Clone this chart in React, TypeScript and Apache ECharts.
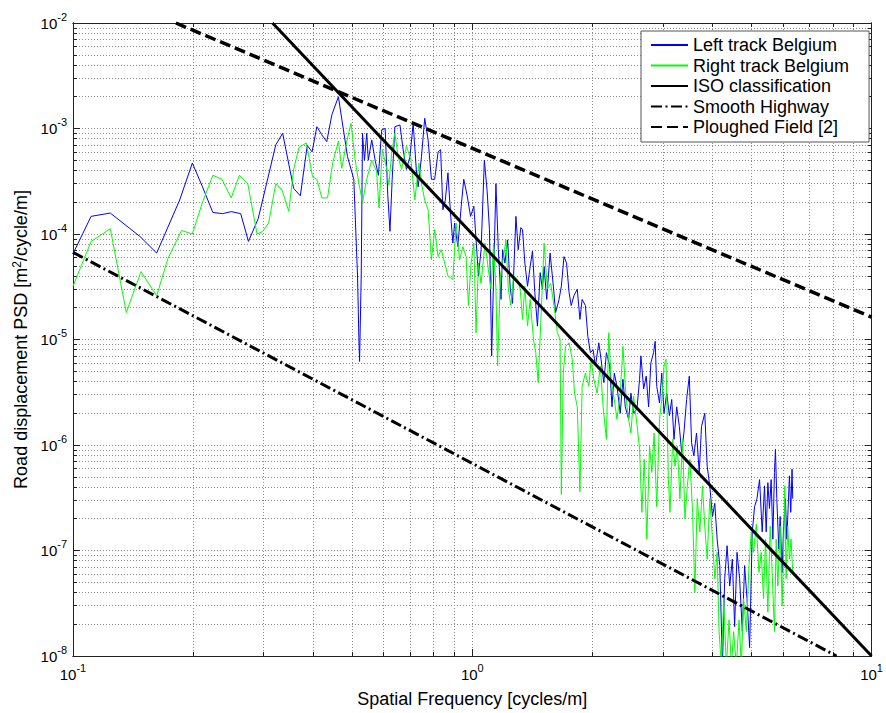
import React, { useEffect, useRef } from "react";
import * as echarts from "echarts";

const FONT = "'Liberation Sans', Arial, Helvetica, sans-serif";

// Spatial frequency [cycles/m], PSD [m^2/cycle/m]
const leftTrack: [number, number][] = [
  [0.100, 6.5e-5], [0.111, 1.47e-4], [0.124, 1.58e-4], [0.147, 9.5e-5], [0.162, 6.6e-5], [0.185, 2.1e-4],
  [0.199, 4.7e-4], [0.211, 2.8e-4], [0.224, 1.6e-4], [0.237, 1.56e-4], [0.249, 1.63e-4], [0.263, 1.56e-4],
  [0.275, 8.5e-5], [0.291, 1.4e-4], [0.322, 7.0e-4], [0.335, 9.0e-4], [0.357, 2.7e-4], [0.371, 2.3e-4],
  [0.386, 6.9e-4], [0.397, 6.0e-4], [0.408, 1.04e-3], [0.420, 8.7e-4], [0.432, 7.5e-4], [0.445, 1.35e-3],
  [0.462, 2.0e-3], [0.487, 5.4e-4], [0.505, 3.3e-4], [0.511, 1.02e-4], [0.516, 4.0e-5], [0.520, 1.0e-5],
  [0.522, 6.2e-6], [0.527, 4.0e-5], [0.531, 9.0e-4], [0.537, 5.0e-4], [0.544, 9.0e-4], [0.549, 5.0e-4],
  [0.560, 7.8e-4], [0.571, 5.0e-4], [0.582, 3.6e-4], [0.593, 9.7e-4], [0.605, 1.0e-3], [0.614, 2.4e-4],
  [0.622, 1.06e-4], [0.630, 3.3e-4], [0.640, 1.04e-3], [0.659, 1.08e-3], [0.671, 6.3e-4], [0.684, 4.1e-4],
  [0.698, 5.4e-4], [0.711, 1.12e-3], [0.724, 4.1e-4], [0.732, 2.8e-4], [0.746, 5.4e-4], [0.760, 1.25e-3],
  [0.775, 7.8e-4], [0.790, 3.3e-4], [0.805, 3.3e-4], [0.821, 6.0e-4], [0.833, 6.3e-4], [0.844, 1.7e-4],
  [0.856, 2.1e-4], [0.869, 3.8e-4], [0.883, 1.47e-4], [0.894, 8.2e-5], [0.903, 1.27e-4], [0.920, 7.6e-5],
  [0.938, 1.83e-4], [0.952, 3.3e-4], [0.971, 2.3e-4], [0.990, 1.47e-4], [1.009, 1.83e-4], [1.022, 8.8e-5],
  [1.036, 4.0e-5], [1.052, 7.1e-5], [1.072, 5.0e-4], [1.089, 2.6e-4], [1.104, 1.1e-4], [1.118, 7.0e-6],
  [1.131, 4.0e-5], [1.146, 3.0e-4], [1.162, 7.1e-5], [1.180, 2.4e-5], [1.191, 7.1e-5], [1.207, 5.3e-5],
  [1.226, 8.8e-5], [1.245, 3.0e-5], [1.261, 2.2e-5], [1.286, 1.47e-4], [1.303, 7.1e-5], [1.323, 1.15e-4],
  [1.336, 1.1e-4], [1.354, 5.3e-5], [1.375, 3.2e-5], [1.396, 4.9e-5], [1.415, 6.9e-5], [1.434, 2.8e-5],
  [1.456, 1.34e-5], [1.479, 4.3e-5], [1.498, 3.0e-5], [1.513, 4.9e-5], [1.536, 2.4e-5], [1.566, 6.6e-5],
  [1.596, 3.2e-5], [1.617, 1.8e-5], [1.649, 2.4e-5], [1.671, 3.2e-5], [1.697, 6.1e-5], [1.722, 5.3e-5],
  [1.747, 2.8e-5], [1.769, 2.1e-5], [1.797, 2.6e-5], [1.832, 3.0e-5], [1.860, 1.55e-5], [1.884, 2.4e-5],
  [1.920, 2.1e-5], [1.947, 1.07e-5], [1.976, 7.5e-6], [2.007, 8.0e-6], [2.034, 5.6e-6], [2.074, 9.3e-6],
  [2.101, 6.5e-6], [2.135, 3.9e-6], [2.167, 7.5e-6], [2.209, 5.6e-6], [2.238, 2.3e-6], [2.268, 4.8e-6],
  [2.303, 3.6e-6], [2.347, 2.0e-6], [2.384, 4.2e-6], [2.416, 2.3e-6], [2.464, 1.75e-6], [2.496, 3.1e-6],
  [2.535, 2.0e-6], [2.584, 2.2e-6], [2.624, 4.2e-6], [2.644, 7.0e-6], [2.686, 3.4e-6], [2.726, 4.5e-6],
  [2.764, 2.3e-6], [2.800, 6.0e-6], [2.844, 7.5e-6], [2.870, 9.6e-6], [2.897, 3.6e-6], [2.943, 2.5e-6],
  [2.982, 4.8e-6], [3.021, 2.0e-6], [3.068, 3.1e-6], [3.116, 1.9e-6], [3.158, 2.7e-6], [3.200, 1.13e-6],
  [3.250, 2.3e-6], [3.300, 1.5e-6], [3.344, 8.5e-7], [3.388, 1.3e-6], [3.441, 2.7e-6], [3.495, 4.5e-6],
  [3.541, 1.05e-6], [3.588, 7.9e-7], [3.644, 1.3e-6], [3.701, 5.5e-7], [3.750, 1.5e-6], [3.821, 2.0e-6],
  [3.875, 6.3e-7], [3.933, 4.1e-7], [3.995, 2.1e-7], [4.048, 2.8e-7], [4.104, 1.28e-7], [4.167, 7.2e-8],
  [4.231, 8e-9], [4.287, 5.4e-8], [4.346, 1.11e-7], [4.412, 4.6e-8], [4.480, 8.3e-8], [4.539, 1.9e-8],
  [4.603, 9.6e-8], [4.672, 5.4e-8], [4.745, 1.7e-8], [4.808, 7.2e-8], [4.875, 3.5e-8], [4.949, 1.2e-8],
  [5.025, 1.5e-7], [5.092, 2.6e-7], [5.163, 3.1e-7], [5.241, 4.7e-7], [5.321, 1.5e-7], [5.393, 4.1e-7],
  [5.445, 1.5e-7], [5.498, 4.4e-7], [5.549, 2.5e-7], [5.603, 4.7e-7], [5.659, 1.28e-7], [5.711, 5.5e-7],
  [5.744, 9.1e-7], [5.789, 3.1e-7], [5.856, 1.03e-7], [5.901, 2.1e-7], [5.969, 6.2e-8], [6.014, 1.5e-7],
  [6.084, 3.1e-7], [6.133, 1.28e-7], [6.179, 2.5e-7], [6.225, 5.1e-7], [6.274, 2.3e-7], [6.321, 5.9e-7],
  [6.346, 3.1e-7],
];

const rightTrack: [number, number][] = [
  [0.100, 3.2e-5], [0.111, 8.5e-5], [0.124, 1.12e-4], [0.136, 1.8e-5], [0.148, 4.4e-5], [0.162, 2.6e-5],
  [0.173, 5.9e-5], [0.187, 1.08e-4], [0.199, 1.0e-4], [0.211, 2.0e-4], [0.224, 3.6e-4], [0.236, 3.3e-4],
  [0.249, 2.2e-4], [0.261, 3.6e-4], [0.274, 3.0e-4], [0.289, 1.0e-4], [0.298, 1.05e-4], [0.309, 1.27e-4],
  [0.322, 3.0e-4], [0.334, 2.6e-4], [0.347, 1.64e-4], [0.357, 4.1e-4], [0.368, 6.6e-4], [0.384, 7.3e-4],
  [0.398, 3.5e-4], [0.408, 3.3e-4], [0.420, 2.2e-4], [0.434, 2.2e-4], [0.447, 4.7e-4], [0.462, 7.6e-4],
  [0.471, 4.2e-4], [0.485, 7.6e-4], [0.497, 1.12e-3], [0.509, 5.0e-4], [0.521, 2.9e-4], [0.531, 2.0e-4],
  [0.544, 3.3e-4], [0.560, 5.0e-4], [0.576, 3.9e-4], [0.584, 1.76e-4], [0.595, 6.3e-4], [0.610, 4.2e-4],
  [0.618, 2.9e-4], [0.628, 5.8e-4], [0.640, 9.0e-4], [0.652, 5.4e-4], [0.665, 4.1e-4], [0.684, 6.8e-4],
  [0.702, 5.0e-4], [0.718, 2.1e-4], [0.735, 4.7e-4], [0.746, 3.0e-4], [0.760, 2.1e-4], [0.775, 1.7e-4],
  [0.790, 5.7e-5], [0.805, 1.1e-4], [0.821, 6.1e-5], [0.836, 7.1e-5], [0.853, 5.3e-5], [0.869, 4.0e-5],
  [0.894, 3.7e-5], [0.911, 1.27e-4], [0.929, 5.7e-5], [0.947, 7.6e-5], [0.965, 6.1e-5], [0.978, 2.1e-5],
  [0.993, 5.3e-5], [1.009, 8.2e-5], [1.022, 1.16e-5], [1.036, 5.3e-5], [1.052, 3.4e-5], [1.076, 8.2e-5],
  [1.097, 4.6e-5], [1.114, 3.0e-5], [1.131, 8.2e-5], [1.146, 3.0e-5], [1.157, 5.6e-6], [1.176, 4.0e-5],
  [1.198, 6.1e-5], [1.214, 8.8e-5], [1.231, 3.0e-5], [1.249, 2.1e-5], [1.269, 4.0e-5], [1.298, 3.7e-5],
  [1.318, 3.0e-5], [1.336, 1.55e-5], [1.354, 3.2e-5], [1.375, 1.34e-5], [1.396, 2.4e-5], [1.423, 1.0e-5],
  [1.442, 7.5e-6], [1.462, 3.9e-6], [1.484, 1.44e-5], [1.513, 8.2e-5], [1.542, 3.0e-5], [1.571, 3.4e-5],
  [1.602, 2.1e-5], [1.633, 1.16e-5], [1.659, 1.0e-5], [1.671, 3.4e-7], [1.690, 4.8e-6], [1.712, 8.6e-6],
  [1.747, 9.3e-6], [1.780, 6.5e-6], [1.803, 3.1e-6], [1.832, 2.3e-6], [1.860, 3.6e-7], [1.884, 3.6e-6],
  [1.920, 4.8e-6], [1.958, 3.6e-6], [1.984, 6.5e-6], [2.015, 4.2e-6], [2.054, 3.1e-6], [2.093, 5.6e-6],
  [2.126, 2.3e-6], [2.167, 1.13e-6], [2.196, 1.16e-5], [2.226, 4.2e-6], [2.268, 2.7e-6], [2.303, 1.75e-6],
  [2.347, 3.1e-6], [2.384, 8.6e-6], [2.416, 3.6e-6], [2.449, 2.0e-6], [2.496, 1.3e-6], [2.535, 2.9e-6],
  [2.584, 1.57e-6], [2.624, 9.1e-7], [2.659, 2.3e-7], [2.695, 7.3e-7], [2.736, 1.28e-7], [2.779, 9.8e-7],
  [2.816, 5.5e-7], [2.853, 1.3e-6], [2.897, 2.6e-7], [2.943, 1.75e-6], [2.982, 2.7e-6], [3.021, 5.6e-6],
  [3.056, 6.5e-6], [3.098, 4.7e-7], [3.127, 2.3e-7], [3.176, 1.13e-6], [3.218, 6.3e-7], [3.262, 9.8e-7],
  [3.311, 3.1e-7], [3.363, 1.13e-6], [3.408, 2.0e-7], [3.455, 4.1e-7], [3.507, 7.3e-7], [3.562, 2.3e-7],
  [3.609, 4.0e-8], [3.659, 3.1e-7], [3.714, 1.5e-7], [3.772, 4.1e-7], [3.821, 1.7e-7], [3.875, 8.3e-8],
  [3.933, 3.1e-7], [3.995, 1.28e-7], [4.048, 5.4e-8], [4.104, 9.6e-8], [4.150, 1.7e-8], [4.206, 8e-9],
  [4.262, 3.5e-8], [4.328, 8e-9], [4.396, 2.2e-8], [4.455, 8e-9], [4.513, 1.7e-8], [4.584, 8e-9],
  [4.656, 2.2e-8], [4.718, 8e-9], [4.780, 3.5e-8], [4.856, 1.7e-8], [4.932, 7.2e-8], [4.997, 1.5e-7],
  [5.063, 9.6e-8], [5.143, 1.77e-7], [5.223, 6.2e-8], [5.292, 9.6e-8], [5.362, 3.5e-8], [5.424, 1.28e-7],
  [5.498, 2.6e-8], [5.572, 1.7e-7], [5.636, 6.2e-8], [5.711, 1.7e-8], [5.768, 1.28e-7], [5.823, 4.6e-8],
  [5.901, 1.7e-7], [5.969, 3.0e-8], [6.014, 8.3e-8], [6.063, 4.1e-7], [6.108, 5.4e-8], [6.166, 1.7e-7],
  [6.225, 8.3e-8], [6.284, 1.28e-7], [6.346, 6.2e-8],
];

const isoClassification: [number, number][] = [[0.316, 1e-2], [10, 1e-8]];
const smoothHighway: [number, number][] = [[0.1, 6.7e-5], [8.17, 1e-8]];
const ploughedField: [number, number][] = [[0.181, 1e-2], [10, 1.63e-5]];

const seriesNames = [
  "Left track Belgium",
  "Right track Belgium",
  "ISO classification",
  "Smooth Highway",
  "Ploughed Field [2]",
];

const xDecades = [0.1, 1, 10];
const yDecades = [1e-8, 1e-7, 1e-6, 1e-5, 1e-4, 1e-3, 1e-2];
const minorSteps = [2, 3, 4, 5, 6, 7, 8, 9];

const minorsOf = (decades: number[]) =>
  decades.slice(0, -1).flatMap((d) => minorSteps.map((m) => Number((d * m).toPrecision(3))));

const xMinor = minorsOf(xDecades);
const yMinor = minorsOf(yDecades);

const gridLine = { show: true, lineStyle: { color: "#8c8c8c", width: 1, type: [1, 2] as number[] } };
const frameLine = { show: true, lineStyle: { color: "#222", width: 1 } };

const labelRich = {
  b: { fontSize: 15, lineHeight: 24, fontFamily: FONT, color: "#000" },
  s: { fontSize: 11, lineHeight: 12, verticalAlign: "top", fontFamily: FONT, color: "#000" },
};
const powFmt = (v: number) => `{b|10}{s|${Math.round(Math.log10(v))}}`;

function makeAxes(dim: "x" | "y") {
  const decades = dim === "x" ? xDecades : yDecades;
  const minors = dim === "x" ? xMinor : yMinor;
  const posA = dim === "x" ? "bottom" : "left";
  const posB = dim === "x" ? "top" : "right";
  const base = {
    type: "log",
    logBase: 10,
    min: decades[0],
    max: decades[decades.length - 1],
    axisLine: frameLine,
    silent: true,
  };
  const main: any = {
    ...base,
    position: posA,
    axisTick: { show: true, inside: true, length: 7, customValues: decades, lineStyle: { color: "#222" } },
    axisLabel: {
      show: true,
      customValues: decades,
      formatter: powFmt,
      rich: labelRich,
      margin: 6,
      showMinLabel: true,
      showMaxLabel: true,
    },
    splitLine: gridLine,
  };
  if (dim === "x") {
    main.name = "Spatial Frequency [cycles/m]";
    main.nameLocation = "middle";
    main.nameGap = 34;
    main.nameTextStyle = { fontSize: 18, fontFamily: FONT, color: "#000" };
  } else {
    main.name = "{a|Road displacement PSD [m}{s|2}{a|/cycle/m]}";
    main.nameLocation = "middle";
    main.nameGap = 42;
    main.nameTextStyle = {
      fontFamily: FONT,
      color: "#000",
      rich: {
        a: { fontSize: 18, lineHeight: 20, fontFamily: FONT, color: "#000" },
        s: { fontSize: 12, lineHeight: 12, verticalAlign: "top", fontFamily: FONT, color: "#000" },
      },
    };
  }
  const minorA = {
    ...base,
    position: posA,
    axisTick: { show: true, inside: true, length: 4, customValues: minors, lineStyle: { color: "#222" } },
    axisLabel: { show: false },
    splitLine: gridLine,
  };
  const mainB = {
    ...base,
    position: posB,
    axisTick: { show: true, inside: true, length: 7, customValues: decades, lineStyle: { color: "#222" } },
    axisLabel: { show: false },
    splitLine: { show: false },
  };
  const minorB = {
    ...base,
    position: posB,
    axisTick: { show: true, inside: true, length: 4, customValues: minors, lineStyle: { color: "#222" } },
    axisLabel: { show: false },
    splitLine: { show: false },
  };
  return [main, minorA, mainB, minorB];
}

export default function App() {
  const ref = useRef<HTMLDivElement>(null);

  useEffect(() => {
    if (!ref.current) return;
    const chart = echarts.init(ref.current, undefined, { renderer: "svg" });
    const lineSeries = (name: string, data: [number, number][], color: string, width: number, type: any, z: number) => ({
      name,
      type: "line",
      data,
      xAxisIndex: 0,
      yAxisIndex: 0,
      symbol: "none",
      showSymbol: false,
      clip: true,
      silent: true,
      z,
      itemStyle: { color },
      lineStyle: { color, width, type },
    });
    chart.setOption({
      animation: false,
      backgroundColor: "#fff",
      grid: { left: 73, right: 10, top: 23, bottom: 56, containLabel: false },
      xAxis: makeAxes("x"),
      yAxis: makeAxes("y"),
      legend: {
        orient: "vertical",
        left: 641,
        top: 31,
        itemWidth: 37,
        itemHeight: 14,
        itemGap: 2.5,
        padding: [5, 20, 6, 9],
        backgroundColor: "#fff",
        borderColor: "#555",
        borderWidth: 1,
        selectedMode: false,
        itemStyle: { opacity: 0, borderWidth: 0 },
        textStyle: { fontSize: 18, lineHeight: 14, fontFamily: FONT, color: "#000" },
        data: seriesNames,
      },
      series: [
        lineSeries(seriesNames[0], leftTrack, "#0000ff", 1, "solid", 2),
        lineSeries(seriesNames[1], rightTrack, "#00ff00", 1, "solid", 3),
        lineSeries(seriesNames[2], isoClassification, "#000000", 3, "solid", 4),
        lineSeries(seriesNames[3], smoothHighway, "#000000", 3, [11, 3.5, 2, 3.5], 4),
        lineSeries(seriesNames[4], ploughedField, "#000000", 3.5, [11, 5], 4),
      ],
    });
    return () => chart.dispose();
  }, []);

  return (
    <div
      ref={ref}
      style={{ position: "absolute", left: 0, top: 0, width: 886, height: 713, background: "#fff" }}
    />
  );
}
